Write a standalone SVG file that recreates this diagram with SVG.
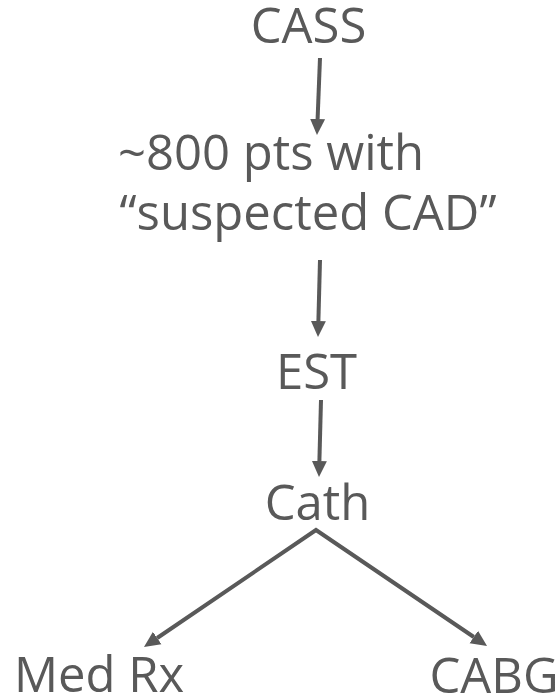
<svg xmlns="http://www.w3.org/2000/svg" width="559" height="697" viewBox="0 0 559 697">
  <style>
    .lbl { font-family: "Open Sans", "Liberation Sans", sans-serif; font-size: 49px; fill: #595959; text-anchor: middle; }
    .edge { fill: none; stroke: #595959; stroke-width: 4; stroke-linejoin: miter; }
  </style>
  <defs>
    <marker id="head" markerUnits="userSpaceOnUse" markerWidth="18" markerHeight="18" refX="0" refY="8" orient="auto-start-reverse" viewBox="0 0 18 16">
      <path d="M0,0.5 L16,8 L0,15.5 z" fill="#595959"/>
    </marker>
  </defs>
  <rect width="559" height="697" fill="#ffffff"/>

  <g id="connectors">
    <path class="edge" d="M320,58 L317.6,119" marker-end="url(#head)"/>
    <path class="edge" d="M320,260 L318.4,321" marker-end="url(#head)"/>
    <path class="edge" d="M321,400 L319.4,461" marker-end="url(#head)"/>
    <path class="edge" d="M157.2,638 L316,530 L473.8,637" marker-start="url(#head)" marker-end="url(#head)"/>
  </g>

  <g id="cass"><text class="lbl" x="308.5" y="43">CASS</text></g>
  <g id="suspected">
    <text class="lbl" x="271" y="170">~800 pts with</text>
    <text class="lbl" x="308" y="230">“suspected CAD”</text>
  </g>
  <g id="est"><text class="lbl" x="316.5" y="389">EST</text></g>
  <g id="cath"><text class="lbl" x="317.5" y="520">Cath</text></g>
  <g id="medrx"><text class="lbl" x="99" y="692">Med Rx</text></g>
  <g id="cabg"><text class="lbl" x="494" y="693">CABG</text></g>
</svg>
